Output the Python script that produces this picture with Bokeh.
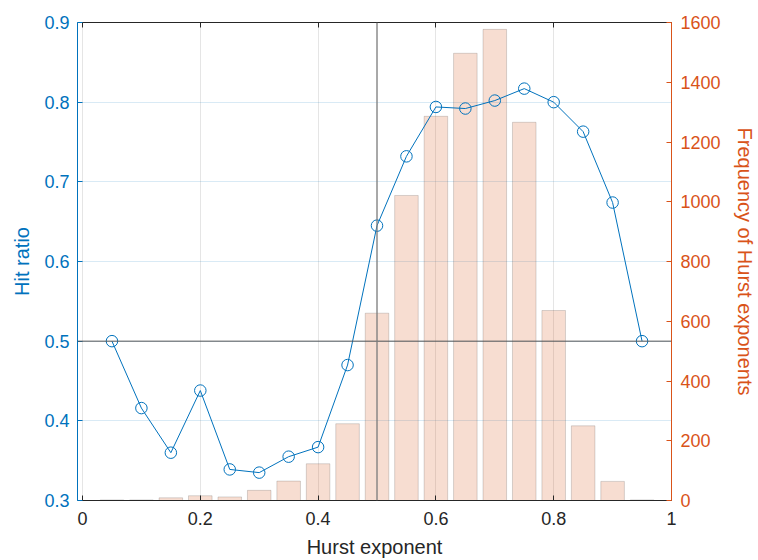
from bokeh.plotting import figure
from bokeh.models import Range1d, LinearAxis, FixedTicker, Span, CustomJSTickFormatter
from bokeh.embed import file_html
from bokeh.resources import INLINE

# ---- data ----
hurst = [0.05, 0.10, 0.15, 0.20, 0.25, 0.30, 0.35, 0.40, 0.45, 0.50,
         0.55, 0.60, 0.65, 0.70, 0.75, 0.80, 0.85, 0.90, 0.95]
hit_ratio = [0.500, 0.416, 0.360, 0.438, 0.339, 0.335, 0.355, 0.367, 0.470, 0.645,
             0.732, 0.794, 0.792, 0.802, 0.817, 0.800, 0.763, 0.674, 0.500]
frequency = [2, 2, 9, 16, 12, 34, 65, 123, 257, 627,
             1021, 1286, 1497, 1577, 1266, 636, 250, 64, 2]

x_ticks = [0, 0.2, 0.4, 0.6, 0.8, 1.0]
x_tick_labels = ["0", "0.2", "0.4", "0.6", "0.8", "1"]
y_left_ticks = [0.3, 0.4, 0.5, 0.6, 0.7, 0.8, 0.9]
y_right_ticks = [0, 200, 400, 600, 800, 1000, 1200, 1400, 1600]
ref_hit = 0.5
ref_hurst = 0.5

BLUE = "#0072BD"
ORANGE = "#D95319"
DARK = "#262626"
FONT = "Liberation Sans"
TICK_FS = "18px"
LABEL_FS = "20px"

p = figure(width=758, height=560, output_backend="svg", toolbar_location=None,
           x_range=Range1d(-0.0085, 1.0), y_range=Range1d(0.3, 0.9),
           min_border_left=77, min_border_right=86, min_border_top=22, min_border_bottom=60,
           background_fill_color="white", border_fill_color="white")
p.outline_line_color = None
p.extra_y_ranges = {"freq": Range1d(0, 1600)}

# grids
p.xgrid.ticker = FixedTicker(ticks=x_ticks)
p.xgrid.grid_line_color = "#262626"
p.xgrid.grid_line_alpha = 0.12
p.ygrid.ticker = FixedTicker(ticks=y_left_ticks)
p.ygrid.grid_line_color = BLUE
p.ygrid.grid_line_alpha = 0.15


def style(ax, color, ticks, label_color=None):
    ax.ticker = FixedTicker(ticks=ticks)
    ax.axis_line_color = color
    ax.major_tick_line_color = color
    ax.major_tick_in = 5
    ax.major_tick_out = 0
    ax.minor_tick_line_color = None
    ax.major_label_text_color = label_color or color
    ax.major_label_text_font = FONT
    ax.major_label_text_font_size = TICK_FS
    ax.major_label_text_line_height = 1.0
    ax.axis_label_text_font = FONT
    ax.axis_label_text_font_size = LABEL_FS
    ax.axis_label_text_font_style = "normal"
    ax.axis_label_text_line_height = 1.0
    ax.axis_label_text_color = label_color or color


xa = p.xaxis[0]
style(xa, DARK, x_ticks)
xa.major_label_overrides = {t: l for t, l in zip(x_ticks, x_tick_labels)}
xa.axis_label = "Hurst exponent"
xa.major_label_standoff = 11
xa.axis_label_standoff = 8

ya = p.yaxis[0]
style(ya, BLUE, y_left_ticks)
ya.axis_label = "Hit ratio"
ya.major_label_standoff = 8
ya.axis_label_standoff = 8

ra = LinearAxis(y_range_name="freq")
style(ra, ORANGE, y_right_ticks)
ra.axis_label = "Frequency of Hurst exponents"
ra.major_label_standoff = 9
ra.axis_label_standoff = 10
p.add_layout(ra, "right")

ta = LinearAxis()
style(ta, DARK, x_ticks)
ta.formatter = CustomJSTickFormatter(code="return ''")
ta.major_label_standoff = 0
p.add_layout(ta, "above")

# bars (right axis)
p.vbar(x=hurst, top=frequency, bottom=0, width=0.04, y_range_name="freq",
       fill_color=ORANGE, fill_alpha=0.2, line_color="black", line_alpha=0.15, line_width=1)

# reference lines
p.add_layout(Span(location=ref_hit, dimension="width", line_color="#555555", line_width=1))
p.add_layout(Span(location=ref_hurst, dimension="height", line_color="#7a7a7a", line_width=1.3))

# hit-ratio line
p.line(hurst, hit_ratio, line_color=BLUE, line_width=1)
p.scatter(hurst, hit_ratio, marker="circle", size=11.5, fill_color=None,
          line_color=BLUE, line_width=1)

open("out.html", "w").write(file_html(p, INLINE))
